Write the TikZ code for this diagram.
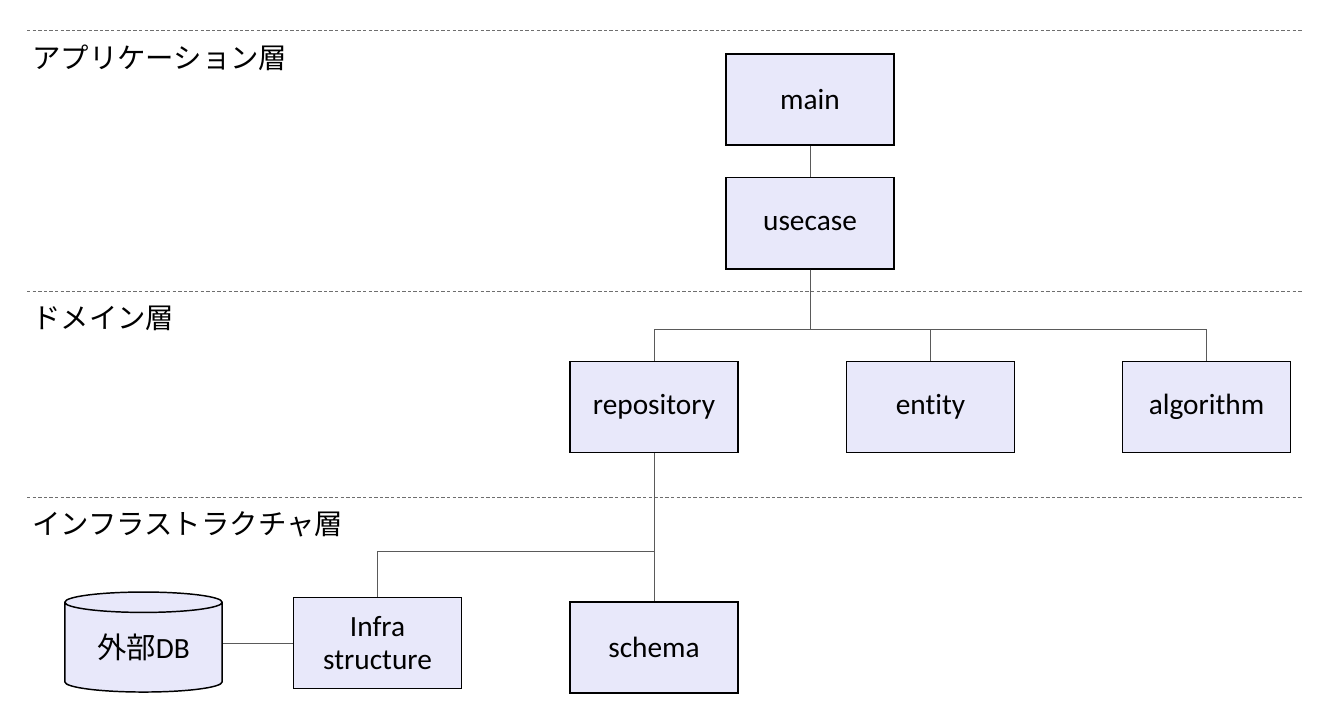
\documentclass[tikz,border=0pt]{standalone}
\usepackage{fontspec}
\setmainfont{Carlito}[Ligatures=NoCommon]
\newfontfamily\jp{Noto Sans CJK JP}
\usetikzlibrary{shapes,positioning}
\definecolor{boxlav}{RGB}{232,232,250}
\definecolor{linegray}{RGB}{90,90,90}
\definecolor{dashgray}{RGB}{110,110,110}

\begin{document}
\begin{tikzpicture}[
    x=0.75pt, y=-0.75pt,
    box/.style={rectangle, draw, line width=1.1pt, fill=boxlav, align=center, minimum width=126pt, minimum height=68.5pt, inner sep=0pt, font=\fontsize{22}{25}\selectfont},
    dbstore/.style={cylinder, shape border rotate=90, aspect=0.22, draw, line width=1.1pt, fill=boxlav, minimum width=118pt, minimum height=75pt, inner sep=0pt, font=\fontsize{22}{25}\selectfont},
    layer/.style={anchor=west, inner sep=0pt, font=\jp\fontsize{21.3}{24}\selectfont},
    link/.style={draw=linegray, line width=0.75pt},
    sep/.style={draw=dashgray, line width=0.75pt, dash pattern=on 2.6pt off 1.6pt}
]
    \useasboundingbox (0,0) rectangle (1339,712);

    % layer borders
    \foreach \y in {31,292,498}
        \draw[sep] (27,\y) -- (1302,\y);
    \node[layer] (lblapp) at (32,58) {アプリケーション層};
    \node[layer] (lbldomain) at (32,318) {ドメイン層};
    \node[layer] (lblinfra) at (32,524) {インフラストラクチャ層};

    \node[box] (main) at (810,99.5) {main};
    \node[box, below=23.25pt of main] (usecase) {usecase};
    \node[box] (repository) at (654,407) {repository};
    \node[box] (entity) at (930.5,407) {entity};
    \node[box] (algorithm) at (1206.5,407) {algorithm};
    \node[box] (infra) at (377.5,643) {Infra\\structure};
    \node[box] (schema) at (654,647.5) {schema};
    \node[dbstore] (db) at (143.5,647.5) {{\jp 外部}DB};

    \coordinate (fork) at (654,552);

    \draw[link] (main) -- (usecase);
    \draw[link] (usecase.south) -- ++(0,60) -| (repository.north);
    \draw[link] (usecase.south) -- ++(0,60) -| (entity.north);
    \draw[link] (usecase.south) -- ++(0,60) -| (algorithm.north);
    \draw[link] (repository.south) -- (schema.north);
    \draw[link] (fork) -| (infra.north);
    \draw[link] (infra.west) -- (infra.west -| db.east);
\end{tikzpicture}
\end{document}
